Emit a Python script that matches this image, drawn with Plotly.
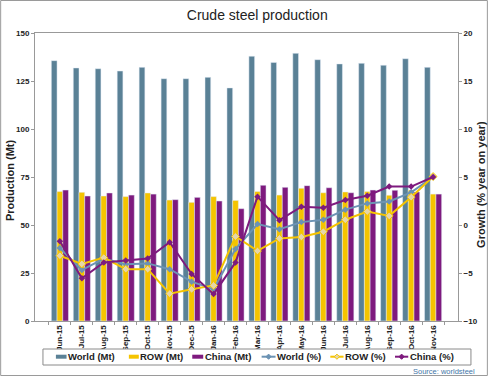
import plotly.graph_objects as go

months = ["Jun-15", "Jul-15", "Aug-15", "Sep-15", "Oct-15", "Nov-15", "Dec-15", "Jan-16", "Feb-16",
          "Mar-16", "Apr-16", "May-16", "Jun-16", "Jul-16", "Aug-16", "Sep-16", "Oct-16", "Nov-16"]

world_mt = [135.6, 131.8, 131.4, 130.2, 132.1, 126.2, 126.2, 126.9, 121.4,
            137.9, 134.7, 139.4, 136.1, 133.9, 134.2, 133.2, 136.6, 132.1]
row_mt = [67.4, 67.0, 65.1, 64.8, 66.7, 63.0, 61.8, 64.8, 62.8,
          67.5, 65.6, 69.1, 66.8, 67.2, 67.4, 65.5, 68.2, 66.1]
china_mt = [68.2, 65.1, 66.7, 65.6, 66.1, 63.2, 64.4, 62.5, 58.5,
            70.7, 69.6, 70.5, 69.4, 66.8, 68.2, 68.1, 67.2, 66.1]

world_pct = [-2.4, -4.7, -3.5, -4.1, -4.0, -4.6, -5.9, -6.7, -2.5,
             0.1, -0.45, 0.3, 0.55, 1.6, 2.25, 2.45, 3.4, 5.0]
row_pct = [-3.2, -4.05, -3.4, -4.6, -4.6, -7.15, -6.7, -6.3, -1.2,
           -2.7, -1.4, -1.25, -0.7, 0.55, 1.4, 0.95, 2.9, 5.05]
china_pct = [-1.7, -5.55, -3.9, -3.7, -3.5, -1.8, -5.1, -7.2, -3.9,
             2.95, 0.5, 1.9, 1.8, 2.6, 3.05, 4.0, 4.0, 5.0]

series_names = ["World (Mt)", "ROW (Mt)", "China (Mt)", "World (%)", "ROW (%)", "China (%)"]

C_WORLD = "#5A8196"
C_ROW = "#F5C400"
C_CHINA = "#7E1A7E"
C_WORLD_L = "#6C93B4"
C_ROW_FILL = "#E6D6A8"

# plot-area geometry in pixels (for converting legend/frame positions to paper coords)
W, H = 490, 376
L, R, T, B = 35, 30, 33, 55
PW, PH = W - L - R, H - T - B


def px(x):
    return (x - L) / PW


def py(y):
    return (H - B - y) / PH


fig = go.Figure()
fig.add_trace(go.Bar(x=months, y=world_mt, name=series_names[0], marker_color=C_WORLD))
fig.add_trace(go.Bar(x=months, y=row_mt, name=series_names[1], marker_color=C_ROW))
fig.add_trace(go.Bar(x=months, y=china_mt, name=series_names[2], marker_color=C_CHINA))
fig.add_trace(go.Scatter(x=months, y=world_pct, name=series_names[3], yaxis="y2", mode="lines+markers",
                         line=dict(color=C_WORLD_L, width=2),
                         marker=dict(symbol="diamond", size=5, color=C_WORLD_L)))
fig.add_trace(go.Scatter(x=months, y=row_pct, name=series_names[4], yaxis="y2", mode="lines+markers",
                         line=dict(color=C_ROW, width=2),
                         marker=dict(symbol="diamond", size=6, color=C_ROW_FILL, line=dict(color=C_ROW, width=1))))
fig.add_trace(go.Scatter(x=months, y=china_pct, name=series_names[5], yaxis="y2", mode="lines+markers",
                         line=dict(color=C_CHINA, width=2),
                         marker=dict(symbol="diamond", size=5, color=C_CHINA)))

font = "Liberation Sans, Arial, sans-serif"
fig.update_layout(
    width=W, height=H,
    margin=dict(l=L, r=R, t=T, b=B),
    paper_bgcolor="white", plot_bgcolor="white",
    barmode="group", bargap=0.22, bargroupgap=0,
    font=dict(family=font, color="#222222"),
    showlegend=False,
    title=dict(text="Crude steel production", x=0.525, xanchor="center", y=1 - 15 / H, yanchor="middle",
               font=dict(size=14, color="#222222", family=font)),
    xaxis=dict(showgrid=False, tickangle=-90, tickfont=dict(size=8, weight="bold"),
               ticks="outside", ticklen=3, tickson="boundaries", tickcolor="#999999",
               showline=True, linecolor="#999999", mirror=True),
    yaxis=dict(range=[0, 150], dtick=25, showgrid=False, tickfont=dict(size=8, weight="bold"),
               ticks="outside", ticklen=3, tickcolor="#999999",
               showline=True, linecolor="#999999", mirror=True),
    yaxis2=dict(range=[-10, 20], dtick=5, overlaying="y", side="right", showgrid=False,
                tickfont=dict(size=8, weight="bold"), ticks="outside", ticklen=3, tickcolor="#999999",
                zeroline=False),
)

# axis titles
fig.add_annotation(text="Production (Mt)", xref="paper", yref="paper", x=px(10), y=py(180),
                   textangle=-90, showarrow=False, xanchor="center", yanchor="middle",
                   font=dict(size=11, weight="bold", color="#222222"))
fig.add_annotation(text="Growth (% year on year)", xref="paper", yref="paper", x=px(483), y=py(184),
                   textangle=-90, showarrow=False, xanchor="center", yanchor="middle",
                   font=dict(size=11, weight="bold", color="#222222"))

# outer frame
fig.add_shape(type="rect", xref="paper", yref="paper", x0=px(0.5), x1=px(489.5), y0=py(375.5), y1=py(0.5),
              line=dict(color="#9A9A9A", width=1), fillcolor="rgba(0,0,0,0)", layer="below")

# legend box
fig.add_shape(type="rect", xref="paper", yref="paper", x0=px(43), x1=px(473), y0=py(365), y1=py(349),
              line=dict(color="#8A8A8A", width=1), fillcolor="white", layer="above")

leg_y = 356.7
leg_colors = [C_WORLD, C_ROW, C_CHINA, C_WORLD_L, C_ROW, C_CHINA]
sym_x = [(56, 66.7), (129.3, 139.3), (193, 204), (262.7, 276.7), (331.7, 345), (396.7, 410)]
for i, (name, col, (a, b)) in enumerate(zip(series_names, leg_colors, sym_x)):
    if i < 3:
        fig.add_shape(type="rect", xref="paper", yref="paper", x0=px(a), x1=px(b),
                      y0=py(leg_y + 2), y1=py(leg_y - 2), line=dict(width=0), fillcolor=col)
    else:
        fig.add_shape(type="line", xref="paper", yref="paper", x0=px(a), x1=px(b),
                      y0=py(leg_y), y1=py(leg_y), line=dict(color=col, width=2))
        cx = (a + b) / 2
        d = 2.6
        path = (f"M {px(cx - d)} {py(leg_y)} L {px(cx)} {py(leg_y - d)} "
                f"L {px(cx + d)} {py(leg_y)} L {px(cx)} {py(leg_y + d)} Z")
        fig.add_shape(type="path", xref="paper", yref="paper", path=path,
                      line=dict(color=col, width=1), fillcolor=(C_ROW_FILL if i == 4 else col))
    fig.add_annotation(text=name, xref="paper", yref="paper", x=px(b + 0.5), y=py(leg_y),
                       xanchor="left", yanchor="middle", showarrow=False, borderpad=0,
                       font=dict(size=9.5, weight="bold", color="#222222"))

fig.add_annotation(text="Source: worldsteel", xref="paper", yref="paper", x=px(478), y=py(371),
                   xanchor="right", yanchor="middle", showarrow=False, borderpad=0,
                   font=dict(size=7.5, color="#3F76A8"))

fig.write_html("out.html", config={"displayModeBar": False},
               post_script="document.body.style.margin='0';document.body.style.padding='0';")
